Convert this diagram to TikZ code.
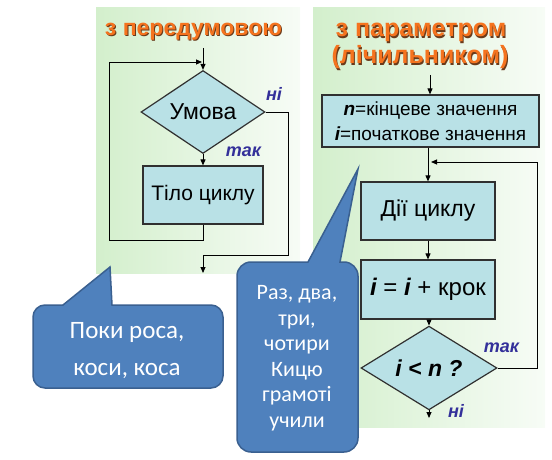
\documentclass[tikz,border=0pt]{standalone}
\usepackage{fontspec}
\setmainfont{Liberation Sans}
\newfontfamily\calib{Carlito}
\usetikzlibrary{shapes.geometric,arrows.meta}
\definecolor{boxfill}{HTML}{B9E1E6}
\definecolor{linec}{HTML}{303030}
\definecolor{yncol}{HTML}{33309A}
\definecolor{ttlcol}{HTML}{F5731E}
\definecolor{ttlshadow}{HTML}{6A3A1A}
\definecolor{panelL}{HTML}{D3EFCC}
\definecolor{panelR}{HTML}{F7FCF6}
\definecolor{callfill}{HTML}{4F81BD}
\definecolor{callborder}{HTML}{3A6090}
\tikzset{
 flowbox/.style={draw=linec, line width=1.2pt, fill=boxfill, inner sep=0pt, align=center, font=\fontsize{23}{26}\selectfont},
 flowdia/.style={diamond, draw=linec, line width=1.2pt, fill=boxfill, inner sep=0pt, font=\fontsize{23}{26}\selectfont},
 conn/.style={line width=0.9pt, draw=black},
 arr/.style={conn, -{Triangle[length=6pt,width=5pt]}},
 yn/.style={text=yncol, anchor=base, inner sep=0pt, font=\bfseries\itshape\fontsize{18}{20}\selectfont},
 ttlL/.style={anchor=base, inner sep=0pt, font=\bfseries\fontsize{23}{26}\selectfont},
 ttlR/.style={anchor=base, inner sep=0pt, font=\bfseries\fontsize{25}{28}\selectfont},
 callout/.style={fill=callfill, draw=callborder, line width=1.5pt},
 calltext/.style={text=white, align=center, inner sep=0pt}
}
\begin{document}
\begin{tikzpicture}[x=1pt,y=-1pt]
\useasboundingbox (0,0) rectangle (552,460);
% panels
\shade[left color=panelL, right color=panelR] (96,8) rectangle (300,273);
\shade[left color=panelL, right color=panelR] (313,8) rectangle (545,427);
% titles
\node[ttlL, text=ttlshadow] (t1s) at (194.5,37) {з передумовою};
\node[ttlL, text=ttlcol] (t1) at (193.5,35.8) {з передумовою};
\node[ttlR, text=ttlshadow] (t2s) at (422,38.2) {з параметром};
\node[ttlR, text=ttlcol] (t2) at (421,37) {з параметром};
\node[ttlR, text=ttlshadow] (t3s) at (421,65.2) {(лічильником)};
\node[ttlR, text=ttlcol] (t3) at (420,64) {(лічильником)};
% left flowchart
\node[flowdia, minimum width=124pt, minimum height=65pt] (cond) at (203,112) {Умова};
\node[flowbox, minimum width=120pt, minimum height=58pt, font=\fontsize{21}{24}\selectfont] (body) at (203,195) {Тіло циклу};
\coordinate (Lin) at (203,48);
\coordinate (Ljoin) at (202,62);
\coordinate (Lleft) at (109,240);
\coordinate (Lright) at (288,255);
\coordinate (Lout) at (203,273);
\draw[arr] (Lin) -- (cond.north);
\draw[arr] (cond.south) -- (body.north);
\draw[arr] (body.south) |- (Lleft) |- (Ljoin);
\draw[arr] (cond.east) -| (Lright) -| (Lout);
\node[yn] (ln1) at (274,100) {ні};
\node[yn] (lt1) at (243.5,157) {так};
% right flowchart
\node[flowbox, minimum width=217pt, minimum height=52pt, font=\fontsize{19}{25}\selectfont] (init) at (430.5,121)
 {{\bfseries\itshape n}=кінцеве значення\\{\bfseries\itshape i}=початкове значення};
\node[flowbox, minimum width=134pt, minimum height=58pt] (act) at (428,211) {Дії циклу};
\node[flowbox, minimum width=134pt, minimum height=59pt, font=\fontsize{24}{27}\selectfont] (incr) at (428,289.5) {{\bfseries\itshape i} = {\bfseries\itshape i} + крок};
\node[flowdia, minimum width=136pt, minimum height=64pt, font=\bfseries\itshape\fontsize{23}{26}\selectfont] (test) at (429,368) {i < n ?};
\coordinate (Rin) at (430,75);
\coordinate (Rright) at (537,162);
\coordinate (Rjoin) at (431,162);
\coordinate (Rout) at (429,418);
\draw[arr] (Rin) -- (Rin |- init.north);
\draw[arr] (init.south -| act.north) -- (act.north);
\draw[arr] (act.south) -- (incr.north);
\draw[arr] (incr.south -| test.north) -- (test.north);
\draw[arr] (test.east) -| (Rright) -- (Rjoin);
\draw[arr] (test.south) -- (Rout);
\node[yn] (lt2) at (501.5,352) {так};
\node[yn] (ln2) at (456,417) {ні};
% callouts
\path[callout] (45,305) -- (63,305) -- (110,267) -- (112,305) -- (211,305)
  arc[start angle=270,end angle=360,radius=12] -- (223,376)
  arc[start angle=0,end angle=90,radius=12] -- (45,388)
  arc[start angle=90,end angle=180,radius=12] -- (33,317)
  arc[start angle=180,end angle=270,radius=12] -- cycle;
\node[calltext, font=\calib\fontsize{25}{37}\selectfont] (c1) at (127,351) {Поки роса,\\коси, коса};
\path[callout] (251,262) -- (308,262) -- (358,169) -- (340,262) -- (344,262)
  arc[start angle=270,end angle=360,radius=14] -- (358,438)
  arc[start angle=0,end angle=90,radius=14] -- (251,452)
  arc[start angle=90,end angle=180,radius=14] -- (237,276)
  arc[start angle=180,end angle=270,radius=14] -- cycle;
\node[calltext, font=\calib\fontsize{22}{25.5}\selectfont] (c2) at (297,358) {Раз, два,\\три,\\чотири\\Кицю\\грамоті\\учили};
\end{tikzpicture}
\end{document}
